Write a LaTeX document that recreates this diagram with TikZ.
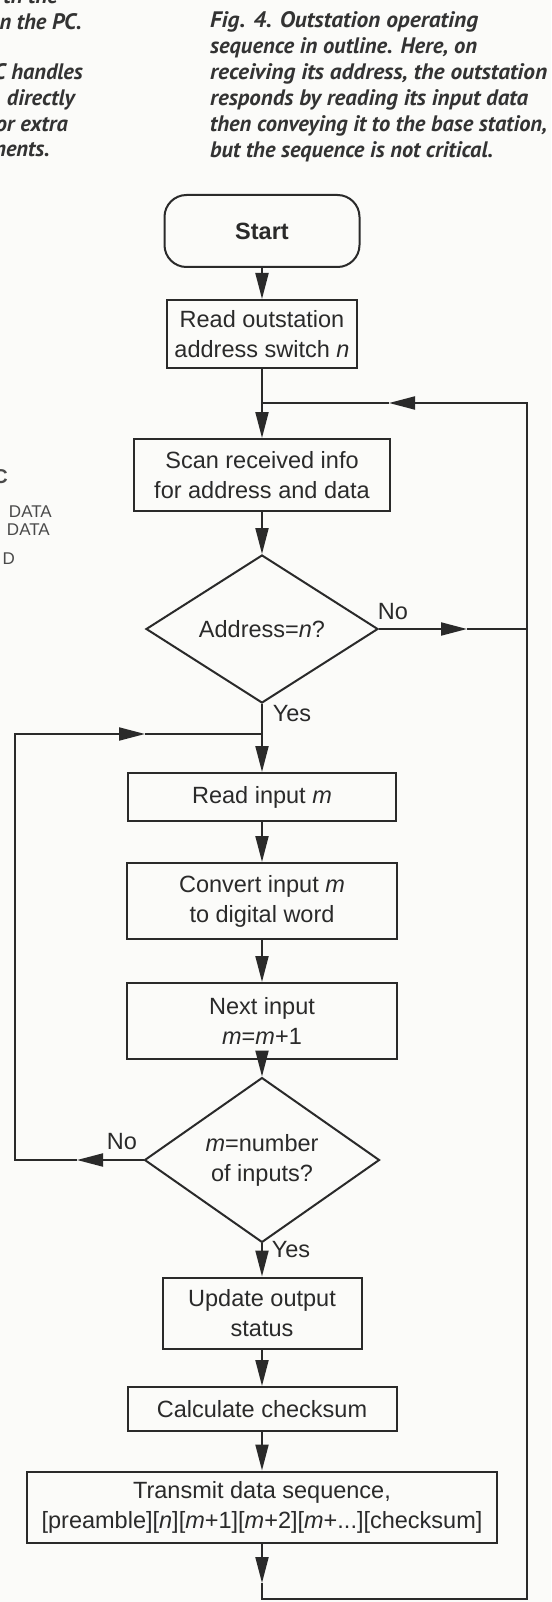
\documentclass[tikz,border=0pt]{standalone}
\usepackage{fontspec}
\usepackage{graphicx}
\setmainfont{Liberation Sans}
\newfontfamily\capfont{PT Sans}
\usetikzlibrary{shapes.geometric,arrows.meta}
\definecolor{ink}{HTML}{2A2A2A}
\definecolor{capink}{HTML}{333333}
\definecolor{fragink}{HTML}{4A4A4A}
\definecolor{paper}{HTML}{FBFBF9}
\newcommand{\fitline}[2]{\resizebox{#1pt}{\height}{#2}}
\begin{document}
\begin{tikzpicture}[x=1pt,y=-1pt,
  flow/.style={draw=ink, text=ink, line width=2pt, inner sep=0pt, align=center,
    font=\fontsize{23.5}{30}\selectfont},
  stepbox/.style={flow, rectangle},
  termbox/.style={flow, rectangle, rounded corners=22pt},
  dec/.style={flow, diamond},
  lbl/.style={text=ink, inner sep=0pt, font=\fontsize{23.5}{28}\selectfont},
  conn/.style={draw=ink, line width=2pt},
  arr/.style={conn, -{Triangle[length=26pt,width=13pt]}},
  captext/.style={text=capink, inner sep=0pt, anchor=base west,
    font=\capfont\bfseries\itshape\fontsize{22.4}{26}\selectfont},
  captextr/.style={captext, anchor=base east},
  frag/.style={text=fragink, inner sep=0pt, anchor=base east,
    font=\fontsize{17}{20}\selectfont},
]
\useasboundingbox (0,0) rectangle (551,1602);
\fill[paper] (0,0) rectangle (551,1602);
\clip (0,0) rectangle (551,1602);

% caption
\node[captext] (c1) at (210,28) {\fitline{268}{Fig. 4. Outstation operating}};
\node[captext] (c2) at (210,54) {\fitline{267}{sequence in outline. Here, on}};
\node[captext] (c3) at (210,80) {\fitline{337}{receiving its address, the outstation}};
\node[captext] (c4) at (210,106) {\fitline{318}{responds by reading its input data}};
\node[captext] (c5) at (210,132) {\fitline{337}{then conveying it to the base station,}};
\node[captext] (c6) at (210,158) {\fitline{283}{but the sequence is not critical.}};

% fragments of neighbouring column
\node[captextr] (f1) at (58,4) {th the};
\node[captextr] (f2) at (82,30) {n the PC.};
\node[captextr] (f3) at (83,80) {C handles};
\node[captextr] (f4) at (75,106) {directly};
\node[captextr] (f5) at (68,132) {or extra};
\node[captextr] (f6) at (50,157) {nents.};
\node[frag, font=\bfseries\fontsize{20}{24}\selectfont] (g1) at (8,483) {C};
\node[frag] (g2) at (52,517) {DATA};
\node[frag] (g3) at (50,535) {DATA};
\node[frag] (g4) at (15,564) {D};

% flow nodes
\node[termbox, minimum width=195pt, minimum height=72pt] (start) at (262,231) {\textbf{Start}};
\node[stepbox, minimum width=190pt, minimum height=68pt] (read1) at (262,334) {Read outstation\\address switch \textit{n}};
\node[stepbox, minimum width=256pt, minimum height=72pt] (scan) at (262,475) {Scan received info\\for address and data};
\node[dec, minimum width=232pt, minimum height=148pt] (d1) at (262,629) {Address=\textit{n}?};
\node[stepbox, minimum width=268pt, minimum height=48pt] (rin) at (262,797) {Read input \textit{m}};
\node[stepbox, minimum width=270pt, minimum height=76pt] (conv) at (262,901) {Convert input \textit{m}\\to digital word};
\node[stepbox, minimum width=270pt, minimum height=76pt] (next) at (262,1021) {Next input\\\textit{m}=\textit{m}+1};
\node[dec, minimum width=235pt, minimum height=148pt] (d2) at (262,1160) {\textit{m}=number\\of inputs?};
\node[stepbox, minimum width=199pt, minimum height=71pt] (upd) at (262,1313) {Update output\\status};
\node[stepbox, minimum width=269pt, minimum height=44pt] (calc) at (262,1409) {Calculate checksum};
\node[stepbox, minimum width=470pt, minimum height=71pt] (trans) at (262,1507) {Transmit data sequence,\\{}[preamble][\textit{n}][\textit{m}+1][\textit{m}+2][\textit{m}+...][checksum]};

% labels
\node[lbl] (noA) at (393,612) {No};
\node[lbl] (yesA) at (292,714) {Yes};
\node[lbl] (noB) at (122,1142) {No};
\node[lbl] (yesB) at (291,1250) {Yes};

% helper coordinates
\coordinate (jTop) at (262,403);
\coordinate (tipTop) at (389,403);
\coordinate (rTop) at (527,403);
\coordinate (tipNo) at (467,629);
\coordinate (rNo) at (527,629);
\coordinate (jYes) at (262,734);
\coordinate (tipYes) at (145,734);
\coordinate (lTop) at (15,734);
\coordinate (lBot) at (15,1160);
\coordinate (tipNo2) at (77,1160);
\coordinate (tipEnd) at (262,1583);
\coordinate (bL) at (262,1599);
\coordinate (bR) at (527,1599);

% connectors
\draw[arr] (start.south) -- (read1.north);
\draw[arr] (read1.south) -- (scan.north);
\draw[arr] (scan.south) -- (d1.north);
\draw[arr] (d1.east) -- (tipNo);
\draw[conn] (tipNo) -- (rNo);
\draw[arr] (d1.south) -- (rin.north);
\draw[arr] (rin.south) -- (conv.north);
\draw[arr] (conv.south) -- (next.north);
\draw[arr] (next.south) -- (d2.north);
\draw[arr] (d2.west) -- (tipNo2);
\draw[arr] (tipNo2) -- (lBot) -- (lTop) -- (tipYes);
\draw[conn] (tipYes) -- (jYes);
\draw[arr] (d2.south) -- (upd.north);
\draw[arr] (upd.south) -- (calc.north);
\draw[arr] (calc.south) -- (trans.north);
\draw[arr] (trans.south) -- (tipEnd);
\draw[arr] (tipEnd) -- (bL) -- (bR) -- (rTop) -- (tipTop);
\draw[conn] (tipTop) -- (jTop);
\end{tikzpicture}
\end{document}
